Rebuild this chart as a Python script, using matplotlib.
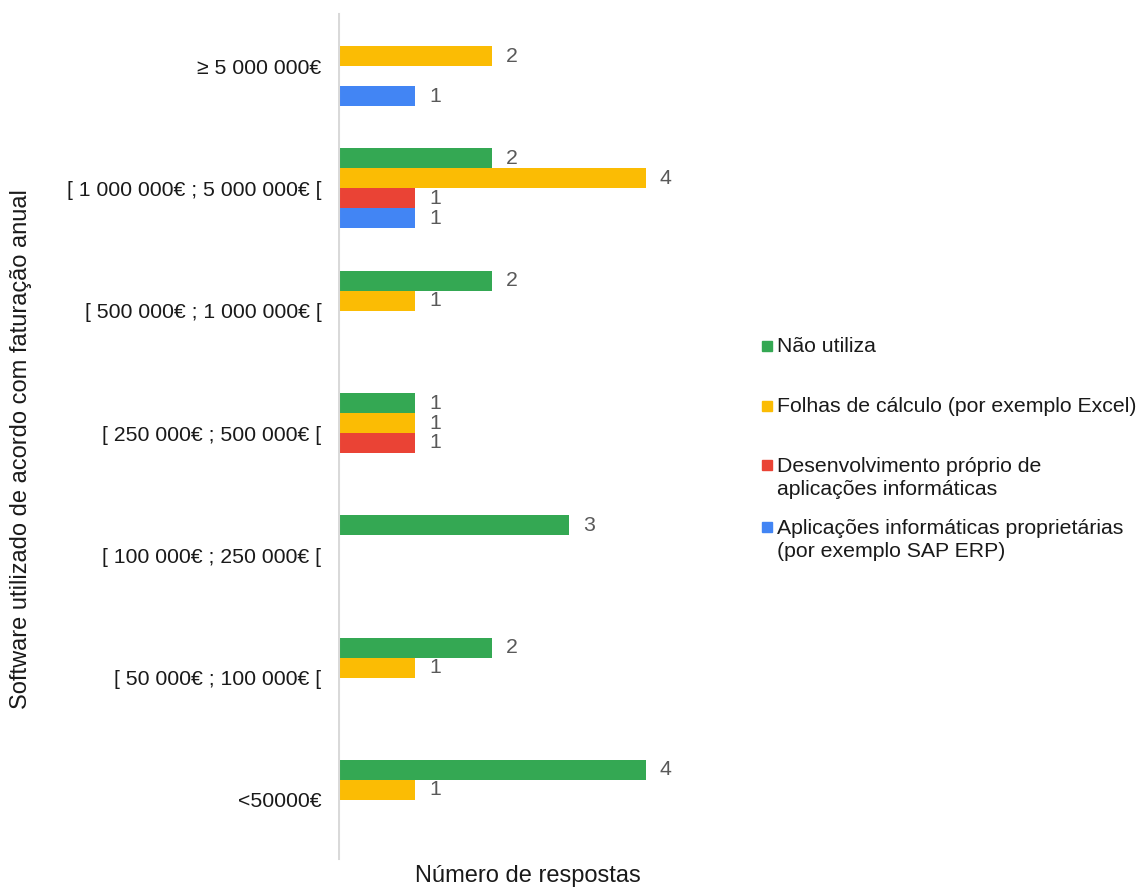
import matplotlib
matplotlib.use("Agg")
import matplotlib.pyplot as plt
import numpy as np
from matplotlib.patches import Rectangle

plt.rcParams['font.family'] = ['Liberation Sans', 'DejaVu Sans']

categories = ["<50000€", "[ 50 000€ ; 100 000€ [", "[ 100 000€ ; 250 000€ [",
              "[ 250 000€ ; 500 000€ [", "[ 500 000€ ; 1 000 000€ [",
              "[ 1 000 000€ ; 5 000 000€ [", "≥ 5 000 000€"]
nao_utiliza = [4, 2, 3, 1, 2, 2, 0]
folhas_calculo = [1, 1, 0, 1, 1, 4, 2]
desenvolvimento_proprio = [0, 0, 0, 1, 0, 1, 0]
aplicacoes_proprietarias = [0, 0, 0, 0, 0, 1, 1]

series_names = ["Não utiliza",
                "Folhas de cálculo (por exemplo Excel)",
                "Desenvolvimento próprio de\naplicações informáticas",
                "Aplicações informáticas proprietárias\n(por exemplo SAP ERP)"]
series_values = [nao_utiliza, folhas_calculo, desenvolvimento_proprio, aplicacoes_proprietarias]
colors = ["#34A853", "#FBBC04", "#EA4335", "#4285F4"]

W, H = 1141, 888
fig = plt.figure(figsize=(W / 100, H / 100), dpi=100)
ax = fig.add_axes([338 / W, 27 / H, (723 - 338) / W, (861 - 5) / H])

fs = 15.3
fs_title = 17
h = 20 / 122.3
offsets = [1.5 * h, 0.5 * h, -0.5 * h, -1.5 * h]
y = np.arange(len(categories))

for vals, off, col in zip(series_values, offsets, colors):
    ax.barh(y + off, vals, height=h, color=col, edgecolor='none')
    for yi, v in zip(y, vals):
        if v > 0:
            ax.text(v + 14 / 77, yi + off, str(v), va='center', ha='left',
                    fontsize=fs, color='#595959')

ax.set_xlim(0, 5)
ax.set_ylim(-0.5, len(categories) - 0.5)
ax.set_yticks(y)
ax.set_yticklabels(categories, fontsize=fs, color='#1a1a1a')
ax.tick_params(axis='y', length=0, pad=12)
ax.set_xticks([])
for s in ax.spines.values():
    s.set_visible(False)
ax.axvline(0, ymin=3 / 856, ymax=847 / 856, color='#d9d9d9', lw=2.2)

fig.text(528 / W, 1 - 876 / H, "Número de respostas", ha='center', va='center',
         fontsize=fs_title, color='#1a1a1a')
fig.text(21 / W, 1 - 449 / H, "Software utilizado de acordo com faturação anual",
         ha='center', va='center', rotation=90, fontsize=fs_title, color='#1a1a1a')

# legend drawn as swatches plus text
legend_y = [346, 406, 465, 527]
for name, col, ly in zip(series_names, colors, legend_y):
    fig.patches.append(Rectangle((762 / W, 1 - (ly + 5) / H), 10 / W, 10 / H,
                                 transform=fig.transFigure, color=col))
    if '\n' in name:
        fig.text(777 / W, 1 - (ly - 8) / H, name, ha='left', va='top',
                 fontsize=fs, color='#1a1a1a', linespacing=1.27)
    else:
        fig.text(777 / W, 1 - ly / H, name, ha='left', va='center',
                 fontsize=fs, color='#1a1a1a')

fig.savefig("out.png", dpi=100)
